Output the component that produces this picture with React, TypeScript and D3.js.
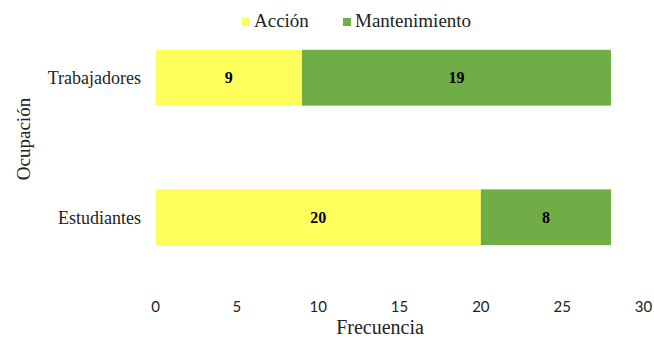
import { useEffect, useRef } from "react";
import * as d3 from "d3";

const categories = ["Trabajadores", "Estudiantes"];
const seriesNames = ["Acción", "Mantenimiento"];
const accion = [9, 20];
const mantenimiento = [19, 8];
const xTicks = [0, 5, 10, 15, 20, 25, 30];
const colors = ["#FFFF5B", "#70AD47"];

const FONT = "Liberation Serif";
const TICK_FONT = "Lato";

export default function App(): JSX.Element {
  const svgRef = useRef<SVGSVGElement | null>(null);

  useEffect(() => {
    const svg = d3.select(svgRef.current);
    svg.selectAll("*").remove();

    const rows = categories.map((name, i) => ({
      name,
      values: [accion[i], mantenimiento[i]]
    }));

    const x = d3.scaleLinear().domain([0, 30]).range([155.5, 643.5]);
    const y = d3
      .scaleBand<string>()
      .domain(categories)
      .range([8, 287])
      .paddingInner(0.6)
      .paddingOuter(0.3);

    const g = svg.append("g").attr("font-family", FONT);

    rows.forEach((row) => {
      let start = 0;
      row.values.forEach((v, si) => {
        const x0 = x(start);
        const x1 = x(start + v);
        g.append("rect")
          .attr("x", x0)
          .attr("y", y(row.name) ?? 0)
          .attr("width", x1 - x0)
          .attr("height", y.bandwidth())
          .attr("fill", colors[si]);
        g.append("text")
          .attr("x", (x0 + x1) / 2)
          .attr("y", (y(row.name) ?? 0) + y.bandwidth() / 2)
          .attr("dy", "0.35em")
          .attr("text-anchor", "middle")
          .attr("font-weight", "bold")
          .attr("font-size", 16)
          .attr("fill", "#000")
          .text(String(v));
        start += v;
      });

      g.append("text")
        .attr("x", 141)
        .attr("y", (y(row.name) ?? 0) + y.bandwidth() / 2)
        .attr("dy", "0.35em")
        .attr("text-anchor", "end")
        .attr("font-size", 18)
        .attr("fill", "#222")
        .text(row.name);
    });

    g.selectAll("text.tick")
      .data(xTicks)
      .join("text")
      .attr("class", "tick")
      .attr("x", (d) => x(d))
      .attr("y", 312)
      .attr("text-anchor", "middle")
      .attr("font-family", TICK_FONT)
      .attr("font-size", 15)
      .attr("fill", "#222")
      .text((d) => String(d));

    g.append("text")
      .attr("x", 380)
      .attr("y", 334)
      .attr("text-anchor", "middle")
      .attr("font-size", 20)
      .attr("fill", "#222")
      .text("Frecuencia");

    g.append("text")
      .attr("transform", "translate(30,139) rotate(-90)")
      .attr("text-anchor", "middle")
      .attr("font-size", 19)
      .attr("fill", "#222")
      .text("Ocupación");

    // legend
    const legendX = [242, 343];
    seriesNames.forEach((name, i) => {
      g.append("rect")
        .attr("x", legendX[i])
        .attr("y", 18)
        .attr("width", 8)
        .attr("height", 8)
        .attr("fill", colors[i]);
      g.append("text")
        .attr("x", legendX[i] + 12)
        .attr("y", 27)
        .attr("font-size", 19)
        .attr("fill", "#222")
        .text(name);
    });
  }, []);

  return (
    <svg
      ref={svgRef}
      width={654}
      height={338}
      style={{ position: "absolute", left: 0, top: 0, background: "#fff" }}
    />
  );
}
